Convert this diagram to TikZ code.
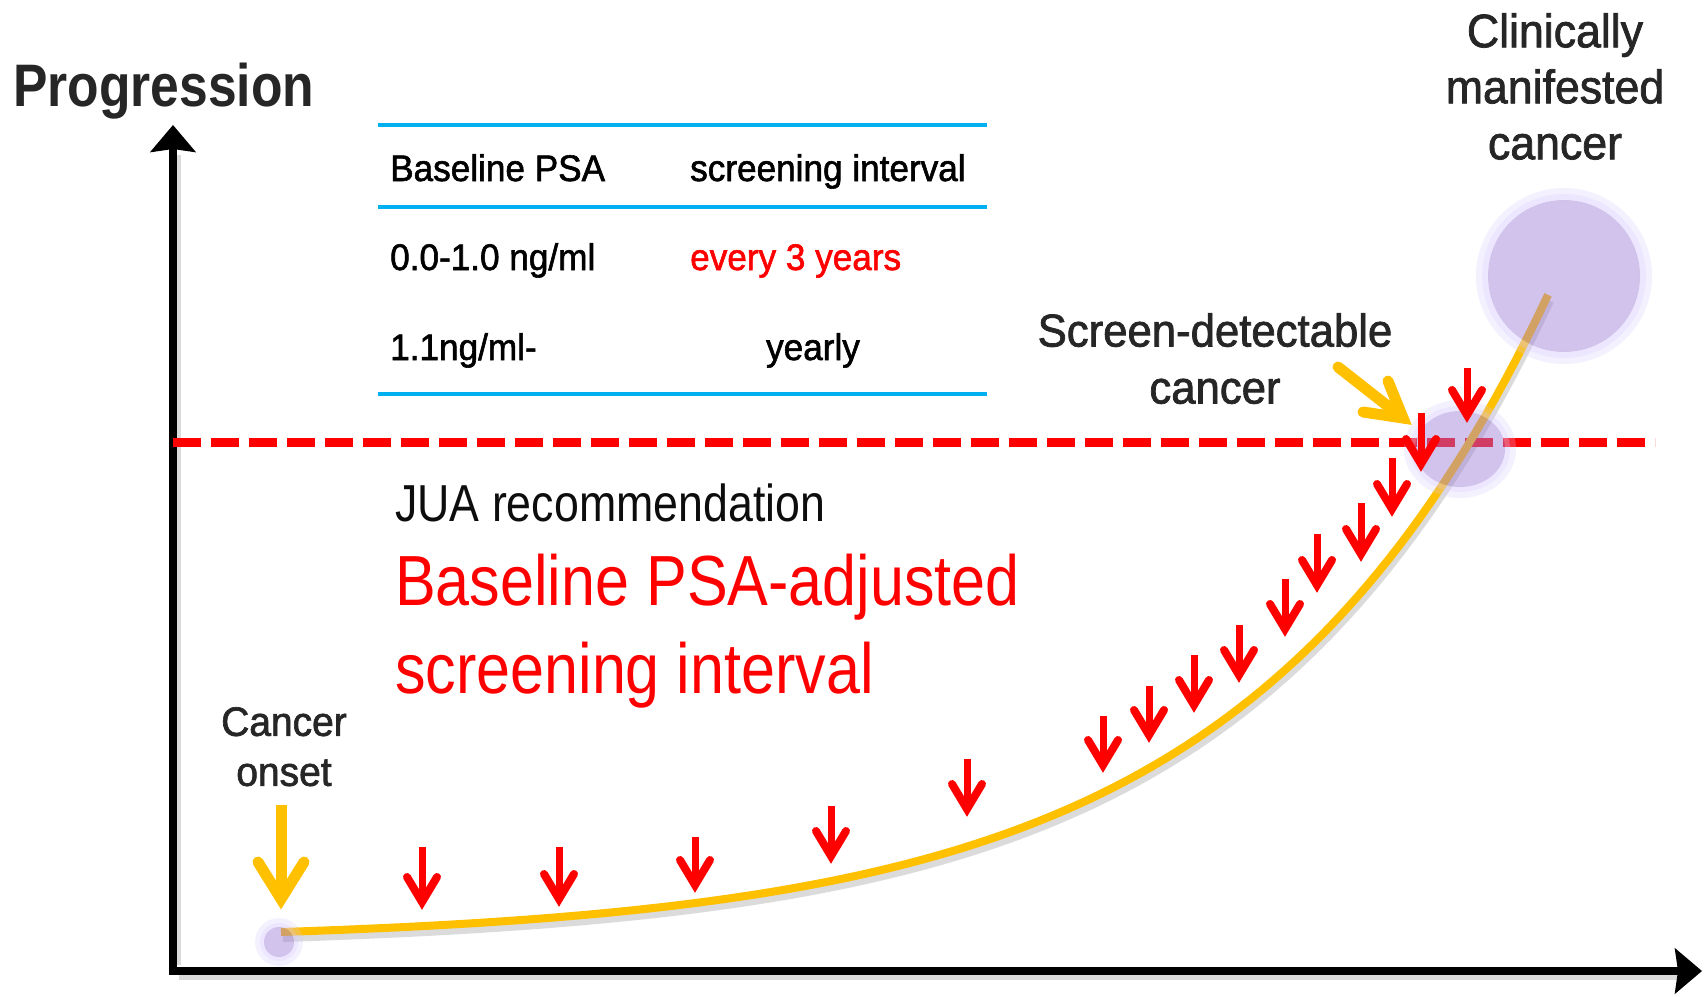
\documentclass[tikz,border=0pt]{standalone}
\usepackage{fontspec}
\usepackage{graphicx}
\setmainfont{Liberation Sans}
\newfontfamily\cf[FakeStretch=0.86]{Liberation Sans}
\newfontfamily\gf[FakeStretch=0.95,FakeBold=1.6]{Liberation Sans}
\usetikzlibrary{arrows.meta}
\definecolor{orng}{RGB}{255,192,0}
\definecolor{tblue}{RGB}{0,176,240}
\definecolor{lav}{RGB}{159,129,213}
\definecolor{glowc}{RGB}{215,200,255}
\definecolor{txt}{RGB}{38,38,38}
\begin{document}
\begin{tikzpicture}[x=1pt,y=-1pt,
  axisline/.style={line width=8pt,-{Stealth[length=27pt,width=45pt,inset=3pt]}},
  shade/.style={black,opacity=0.14},
  tline/.style={tblue,line width=4pt},
  thresh/.style={red,line width=9pt,dash pattern=on 28pt off 10pt},
  curvestyle/.style={orng,line width=8pt},
  redshaft/.style={red,line width=7pt},
  redhead/.style={red,line width=8pt,line cap=round,line join=miter},
  orshaft/.style={orng,line width=11pt},
  orhead/.style={orng,line width=11pt,line cap=round,line join=miter},
  blob/.style={fill=lav,fill opacity=0.47},
  glowa/.style={fill=glowc,fill opacity=0.45,even odd rule},
  glowb/.style={fill=glowc,fill opacity=0.25,even odd rule},
  lbl/.style={text=txt,align=center,inner sep=0pt,anchor=north},
  tbl/.style={font=\gf\fontsize{37}{44}\selectfont,inner sep=0pt,anchor=base west,text=black},
  big/.style={font=\cf\fontsize{71}{80}\selectfont,text=red,inner sep=0pt,anchor=base west}
]
\useasboundingbox[fill=white] (0,0) rectangle (1708,996);

% coordinates
\coordinate (O) at (173,971);
\coordinate (ytop) at (173,125);
\coordinate (xend) at (1702,971);
\coordinate (dl) at (173,442);
\coordinate (dr) at (1655,442);
\coordinate (bigc) at (1564,276);
\coordinate (midc) at (1460,449);
\coordinate (smc) at (279,942);

% shadows
\draw[shade,line width=8pt,shift={(4,5)}] (173,960) -- (173,150);
\draw[shade,line width=8pt,shift={(4,5)}] (175,971) -- (1680,971);
\draw[shade,line width=9pt,dash pattern=on 28pt off 10pt,shift={(3,9)}] (dl) -- (dr);
\draw[shade,line width=8pt,shift={(2,6)}] plot[domain=281:1548,samples=120] (\x,{932-9.94*(exp(0.0033*(\x-281))-1)});

% axes
\draw[axisline] ([yshift=4pt]O) -- (ytop);
\draw[axisline] ([xshift=-4pt]O) -- (xend);

% table
\draw[tline] (378,125) -- (987,125);
\draw[tline] (378,207) -- (987,207);
\draw[tline] (378,394) -- (987,394);
\node[tbl] (h1) at (390,181) {Baseline PSA};
\node[tbl] (h2) at (690,181) {screening interval};
\node[tbl] (r1a) at (390,270) {0.0-1.0 ng/ml};
\node[tbl,text=red] (r1b) at (690,270) {every 3 years};
\node[tbl] (r2a) at (390,360) {1.1ng/ml-};
\node[tbl,anchor=base] (r2b) at (813,360) {yearly};

% threshold
\draw[thresh] (dl) -- (dr);

% curve
\draw[curvestyle] plot[domain=281:1548,samples=120] (\x,{932-9.94*(exp(0.0033*(\x-281))-1)});

% blobs
\fill[glowb] (bigc) circle[radius=88] (bigc) circle[radius=82];
\fill[glowa] (bigc) circle[radius=82] (bigc) circle[radius=76];
\fill[blob] (bigc) circle[radius=76];
\fill[glowb] (midc) ellipse[x radius=56,y radius=49] (midc) ellipse[x radius=50,y radius=43];
\fill[glowa] (midc) ellipse[x radius=50,y radius=43] (midc) ellipse[x radius=45,y radius=38];
\fill[blob] (midc) ellipse[x radius=45,y radius=38];
\fill[glowb] (smc) circle[radius=24] (smc) circle[radius=19];
\fill[glowa] (smc) circle[radius=19] (smc) circle[radius=15];
\fill[blob] (smc) circle[radius=15];

% red arrows
\foreach \ax/\ay/\az in {422/910/847,559/907/847,695/893/837,831/864/806,967/817/759,1103/773/716,1149/743/686,1194/713/655,1239/683/625,1285/637/579,1317/593/534,1361/562/503,1392/517/458,1421/472/413,1467/423/368}{
  \draw[redshaft] (\ax,\az) -- (\ax,\ay-10);
  \draw[redhead] (\ax-15,\ay-33) -- (\ax,\ay-8) -- (\ax+15,\ay-33);
}

% orange arrows
\coordinate (onsetTail) at (281,805);
\coordinate (onsetTip) at (281,899);
\draw[orshaft] (onsetTail) -- ([yshift=4pt]onsetTip);
\draw[orhead] (258,862) -- (onsetTip) -- (304,862);
\coordinate (sdTail) at (1338,367);
\coordinate (sdTip) at (1403,418);
\draw[orshaft,line cap=round] (sdTail) -- (sdTip);
\draw[orhead] (1363,412) -- (sdTip) -- (1388,381);

% texts
\node[anchor=base west,inner sep=0pt,text=txt,font=\cf\bfseries\fontsize{60}{70}\selectfont] (prog) at (13,106) {Progression};
\node[lbl,font=\gf\fontsize{47}{56}\selectfont] (clin) at (1555,13) {Clinically\\manifested\\cancer};
\node[lbl,font=\gf\fontsize{46}{57}\selectfont] (sdet) at (1215,313) {Screen-detectable\\cancer};
\node[lbl,font=\gf\fontsize{41}{50}\selectfont] (onset) at (284,707) {Cancer\\onset};
\node[anchor=base west,inner sep=0pt,text=black!95,font=\cf\fontsize{52}{60}\selectfont] (jua) at (395,521) {JUA recommendation};
\node[big] (big1) at (395,605) {Baseline PSA-adjusted};
\node[big] (big2) at (395,693) {screening interval};
\end{tikzpicture}
\end{document}
